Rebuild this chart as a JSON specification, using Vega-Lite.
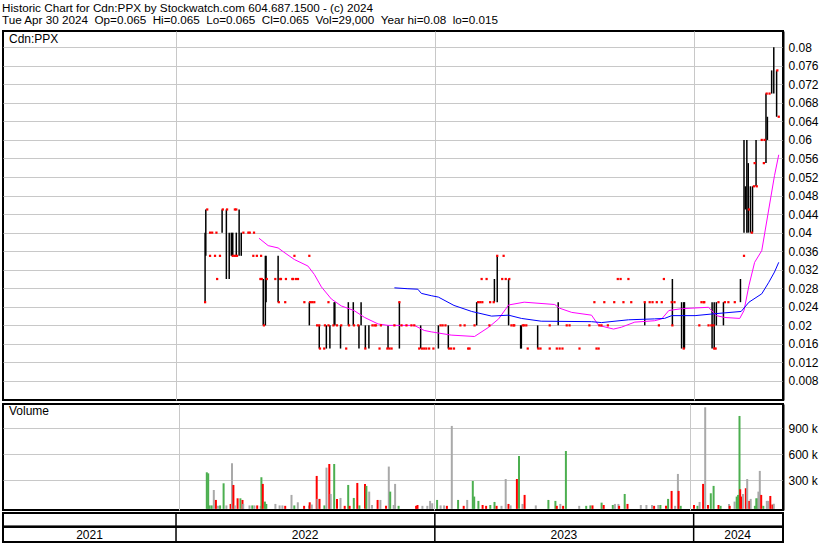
{
"$schema":"https://vega.github.io/schema/vega-lite/v6.json",
"padding":{"left":1,"top":2,"right":0,"bottom":0},
"background":"white",
"config":{"font":"Liberation Sans","view":{"stroke":"black","strokeWidth":2},"axis":{"labelFont":"Liberation Sans","labelColor":"black","labelFontSize":12,"gridColor":"#c8c8c8","gridWidth":1},"text":{"font":"Liberation Sans"}},
"title":{"text":["Historic Chart for Cdn:PPX by Stockwatch.com 604.687.1500 - (c) 2024","Tue Apr 30 2024\u00a0\u00a0Op=0.065\u00a0\u00a0Hi=0.065\u00a0\u00a0Lo=0.065\u00a0\u00a0Cl=0.065\u00a0\u00a0Vol=29,000\u00a0\u00a0Year hi=0.08\u00a0\u00a0lo=0.015"],"anchor":"start","fontSize":11.7,"fontWeight":"normal","font":"Liberation Sans","color":"black","lineHeight":12.5,"offset":3,"frame":"bounds","dx":1},
"resolve":{"scale":{"color":"independent"}},
"datasets":{
"px":[
{"d":"2022-02-11","h":0.04,"l":0.025},{"d":"2022-02-12","h":0.045,"l":0.035},{"d":"2022-03-07","h":0.045,"l":0.04},{"d":"2022-03-13","h":0.045,"l":0.03},{"d":"2022-03-17","h":0.04,"l":0.03},{"d":"2022-03-20","h":0.04,"l":0.035},{"d":"2022-03-22","h":0.04,"l":0.035},{"d":"2022-03-27","h":0.04,"l":0.035},{"d":"2022-03-31","h":0.045,"l":0.035},{"d":"2022-04-03","h":0.04,"l":0.035},
{"d":"2022-05-04","h":0.03,"l":0.02},{"d":"2022-05-07","h":0.035,"l":0.02},{"d":"2022-05-08","h":0.035,"l":0.025},{"d":"2022-05-25","h":0.035,"l":0.025},{"d":"2022-07-08","h":0.025,"l":0.02},{"d":"2022-07-22","h":0.02,"l":0.015},{"d":"2022-08-01","h":0.02,"l":0.015},{"d":"2022-08-06","h":0.02,"l":0.015},{"d":"2022-08-12","h":0.025,"l":0.02},{"d":"2022-08-13","h":0.025,"l":0.02},{"d":"2022-08-21","h":0.02,"l":0.015},{"d":"2022-09-01","h":0.025,"l":0.02},{"d":"2022-09-08","h":0.025,"l":0.02},{"d":"2022-09-16","h":0.02,"l":0.015},{"d":"2022-09-19","h":0.025,"l":0.02},{"d":"2022-09-25","h":0.02,"l":0.015},{"d":"2022-09-30","h":0.02,"l":0.015},{"d":"2022-10-27","h":0.02,"l":0.015},{"d":"2022-11-12","h":0.025,"l":0.015},{"d":"2022-12-12","h":0.02,"l":0.015},
{"d":"2023-01-06","h":0.02,"l":0.015},{"d":"2023-01-20","h":0.02,"l":0.015},{"d":"2023-03-01","h":0.025,"l":0.02},{"d":"2023-03-26","h":0.03,"l":0.025},{"d":"2023-03-30","h":0.035,"l":0.025},{"d":"2023-04-15","h":0.03,"l":0.02},{"d":"2023-05-02","h":0.02,"l":0.015},{"d":"2023-05-03","h":0.02,"l":0.015},{"d":"2023-05-26","h":0.02,"l":0.015},{"d":"2023-06-24","h":0.025,"l":0.02},{"d":"2023-10-24","h":0.025,"l":0.02},{"d":"2023-12-02","h":0.03,"l":0.02},{"d":"2023-12-15","h":0.025,"l":0.015},{"d":"2023-12-18","h":0.025,"l":0.015},{"d":"2023-12-19","h":0.025,"l":0.015},
{"d":"2024-01-27","h":0.025,"l":0.015},{"d":"2024-01-30","h":0.025,"l":0.015},{"d":"2024-02-02","h":0.025,"l":0.02},{"d":"2024-02-12","h":0.025,"l":0.02},{"d":"2024-03-07","h":0.03,"l":0.025},{"d":"2024-03-12","h":0.06,"l":0.04},{"d":"2024-03-14","h":0.05,"l":0.045},{"d":"2024-03-16","h":0.06,"l":0.04},{"d":"2024-03-18","h":0.055,"l":0.04},{"d":"2024-03-21","h":0.05,"l":0.04},{"d":"2024-03-24","h":0.05,"l":0.04},{"d":"2024-03-29","h":0.06,"l":0.05},{"d":"2024-04-12","h":0.07,"l":0.055},{"d":"2024-04-14","h":0.065,"l":0.06},{"d":"2024-04-20","h":0.075,"l":0.07},{"d":"2024-04-23","h":0.08,"l":0.07},{"d":"2024-04-27","h":0.075,"l":0.065}
],
"dots":[
{"d":"2022-02-14","p":0.045},{"d":"2022-02-11","p":0.025},{"d":"2022-02-18","p":0.04},{"d":"2022-02-21","p":0.04},{"d":"2022-02-27","p":0.04},{"d":"2022-02-18","p":0.035},{"d":"2022-02-25","p":0.035},{"d":"2022-03-04","p":0.035},{"d":"2022-02-28","p":0.03},{"d":"2022-03-08","p":0.045},{"d":"2022-03-14","p":0.045},{"d":"2022-03-25","p":0.045},{"d":"2022-03-27","p":0.045},{"d":"2022-03-22","p":0.035},{"d":"2022-03-25","p":0.035},{"d":"2022-03-28","p":0.035},{"d":"2022-04-06","p":0.04},{"d":"2022-04-13","p":0.04},{"d":"2022-04-15","p":0.04},{"d":"2022-04-21","p":0.04},{"d":"2022-04-20","p":0.035},{"d":"2022-04-25","p":0.035},{"d":"2022-05-01","p":0.035},{"d":"2022-04-30","p":0.03},{"d":"2022-05-02","p":0.03},{"d":"2022-05-09","p":0.03},{"d":"2022-05-05","p":0.02},{"d":"2022-05-21","p":0.03},{"d":"2022-05-28","p":0.03},{"d":"2022-05-29","p":0.03},{"d":"2022-06-05","p":0.03},{"d":"2022-06-14","p":0.03},{"d":"2022-06-15","p":0.03},{"d":"2022-06-19","p":0.03},{"d":"2022-06-22","p":0.03},{"d":"2022-05-26","p":0.025},{"d":"2022-06-04","p":0.025},{"d":"2022-06-17","p":0.035},{"d":"2022-07-08","p":0.035},{"d":"2022-07-01","p":0.025},{"d":"2022-07-09","p":0.025},{"d":"2022-07-12","p":0.025},{"d":"2022-07-15","p":0.025},{"d":"2022-07-19","p":0.02},{"d":"2022-07-22","p":0.02},{"d":"2022-07-23","p":0.015},{"d":"2022-07-29","p":0.015},{"d":"2022-08-04","p":0.025},{"d":"2022-07-30","p":0.02},{"d":"2022-08-04","p":0.02},{"d":"2022-08-11","p":0.02},{"d":"2022-08-16","p":0.02},{"d":"2022-08-22","p":0.02},{"d":"2022-08-29","p":0.015},{"d":"2022-09-02","p":0.02},{"d":"2022-09-09","p":0.02},{"d":"2022-09-15","p":0.02},{"d":"2022-09-25","p":0.015},{"d":"2022-10-05","p":0.02},{"d":"2022-10-08","p":0.02},{"d":"2022-10-10","p":0.02},{"d":"2022-10-15","p":0.015},{"d":"2022-10-17","p":0.02},{"d":"2022-10-26","p":0.015},{"d":"2022-10-29","p":0.015},{"d":"2022-11-01","p":0.015},{"d":"2022-11-05","p":0.02},{"d":"2022-11-12","p":0.025},{"d":"2022-11-15","p":0.02},{"d":"2022-11-22","p":0.02},{"d":"2022-11-29","p":0.02},{"d":"2022-12-03","p":0.02},{"d":"2022-12-10","p":0.015},{"d":"2022-12-14","p":0.015},{"d":"2022-12-17","p":0.015},{"d":"2022-12-20","p":0.015},{"d":"2022-12-24","p":0.015},{"d":"2022-12-30","p":0.015},
{"d":"2023-01-09","p":0.02},{"d":"2023-01-12","p":0.02},{"d":"2023-01-16","p":0.02},{"d":"2023-01-21","p":0.015},{"d":"2023-01-24","p":0.015},{"d":"2023-01-28","p":0.015},{"d":"2023-02-06","p":0.02},{"d":"2023-02-12","p":0.02},{"d":"2023-02-17","p":0.015},{"d":"2023-02-19","p":0.015},{"d":"2023-02-26","p":0.02},{"d":"2023-03-03","p":0.025},{"d":"2023-03-06","p":0.025},{"d":"2023-03-09","p":0.025},{"d":"2023-03-08","p":0.03},{"d":"2023-03-15","p":0.03},{"d":"2023-03-19","p":0.02},{"d":"2023-03-20","p":0.025},{"d":"2023-03-25","p":0.025},{"d":"2023-03-30","p":0.035},{"d":"2023-04-08","p":0.035},{"d":"2023-04-06","p":0.03},{"d":"2023-04-11","p":0.03},{"d":"2023-04-16","p":0.03},{"d":"2023-04-19","p":0.02},{"d":"2023-04-22","p":0.02},{"d":"2023-04-23","p":0.02},{"d":"2023-05-05","p":0.02},{"d":"2023-05-07","p":0.02},{"d":"2023-05-10","p":0.02},{"d":"2023-05-12","p":0.015},{"d":"2023-05-27","p":0.015},{"d":"2023-05-30","p":0.015},{"d":"2023-06-12","p":0.02},{"d":"2023-06-12","p":0.015},{"d":"2023-06-22","p":0.015},{"d":"2023-06-26","p":0.015},{"d":"2023-06-30","p":0.015},{"d":"2023-07-06","p":0.02},{"d":"2023-07-10","p":0.02},{"d":"2023-07-24","p":0.015},{"d":"2023-08-07","p":0.02},{"d":"2023-08-14","p":0.025},{"d":"2023-08-17","p":0.015},{"d":"2023-08-20","p":0.015},{"d":"2023-08-21","p":0.02},{"d":"2023-08-24","p":0.02},{"d":"2023-08-28","p":0.025},{"d":"2023-09-02","p":0.02},{"d":"2023-09-11","p":0.025},{"d":"2023-09-16","p":0.03},{"d":"2023-09-20","p":0.03},{"d":"2023-10-01","p":0.03},{"d":"2023-09-24","p":0.025},{"d":"2023-10-05","p":0.025},{"d":"2023-10-24","p":0.025},{"d":"2023-10-31","p":0.025},{"d":"2023-11-04","p":0.025},{"d":"2023-11-10","p":0.025},{"d":"2023-11-17","p":0.025},{"d":"2023-11-13","p":0.02},{"d":"2023-11-20","p":0.03},{"d":"2023-12-02","p":0.02},{"d":"2023-12-01","p":0.025},{"d":"2023-12-05","p":0.025},{"d":"2023-12-18","p":0.015},
{"d":"2024-01-09","p":0.02},{"d":"2024-01-15","p":0.025},{"d":"2024-01-22","p":0.02},{"d":"2024-01-26","p":0.02},{"d":"2024-01-29","p":0.02},{"d":"2024-01-30","p":0.015},{"d":"2024-02-01","p":0.015},{"d":"2024-01-12","p":0.025},{"d":"2024-01-16","p":0.025},{"d":"2024-02-05","p":0.025},{"d":"2024-02-14","p":0.025},{"d":"2024-02-19","p":0.025},{"d":"2024-02-28","p":0.025},{"d":"2024-03-12","p":0.035},{"d":"2024-03-19","p":0.045},{"d":"2024-03-23","p":0.04},{"d":"2024-03-26","p":0.05},{"d":"2024-03-30","p":0.05},{"d":"2024-03-27","p":0.055},{"d":"2024-04-06","p":0.06},{"d":"2024-04-10","p":0.06},{"d":"2024-04-09","p":0.055},{"d":"2024-04-13","p":0.07},{"d":"2024-04-17","p":0.07},{"d":"2024-04-28","p":0.075},{"d":"2024-04-30","p":0.065}
],
"maShort":[
{"d":"2022-04-28","v":0.0388},{"d":"2022-05-11","v":0.0372},{"d":"2022-05-25","v":0.0367},{"d":"2022-06-02","v":0.0358},{"d":"2022-06-17","v":0.0342},{"d":"2022-07-06","v":0.0328},{"d":"2022-07-15","v":0.031},{"d":"2022-07-25","v":0.0283},{"d":"2022-08-08","v":0.0257},{"d":"2022-08-22","v":0.0242},{"d":"2022-09-09","v":0.0232},{"d":"2022-09-24","v":0.0217},{"d":"2022-10-13","v":0.0203},{"d":"2022-10-27","v":0.02},{"d":"2022-12-03","v":0.02},{"d":"2022-12-17","v":0.0189},{"d":"2022-12-27","v":0.0186},{"d":"2023-01-24","v":0.0179},{"d":"2023-02-26","v":0.0176},{"d":"2023-03-18","v":0.0196},{"d":"2023-04-01","v":0.0214},{"d":"2023-04-15","v":0.0244},{"d":"2023-05-07","v":0.025},{"d":"2023-06-19","v":0.0245},{"d":"2023-06-26","v":0.0237},{"d":"2023-07-13","v":0.0228},{"d":"2023-08-10","v":0.0222},{"d":"2023-08-20","v":0.02},{"d":"2023-09-10","v":0.0192},{"d":"2023-09-21","v":0.0196},{"d":"2023-10-10","v":0.0207},{"d":"2023-11-07","v":0.021},{"d":"2023-11-17","v":0.0214},{"d":"2023-11-27","v":0.0232},{"d":"2023-12-15","v":0.0236},{"d":"2024-01-22","v":0.0239},{"d":"2024-02-02","v":0.0221},{"d":"2024-02-14","v":0.0217},{"d":"2024-03-06","v":0.0215},{"d":"2024-03-12","v":0.0232},{"d":"2024-03-19","v":0.0286},{"d":"2024-03-27","v":0.0336},{"d":"2024-04-06","v":0.0361},{"d":"2024-04-16","v":0.0451},{"d":"2024-04-24","v":0.0523},{"d":"2024-04-30","v":0.0568}
],
"maLong":[
{"d":"2022-11-05","v":0.0281},{"d":"2022-11-24","v":0.0279},{"d":"2022-12-08","v":0.0278},{"d":"2022-12-13","v":0.0269},{"d":"2022-12-27","v":0.0264},{"d":"2023-01-06","v":0.0261},{"d":"2023-01-28","v":0.0243},{"d":"2023-02-22","v":0.023},{"d":"2023-03-22","v":0.022},{"d":"2023-04-15","v":0.0222},{"d":"2023-05-03","v":0.0215},{"d":"2023-05-31","v":0.0209},{"d":"2023-08-10","v":0.0208},{"d":"2023-08-24","v":0.0206},{"d":"2023-10-01","v":0.0212},{"d":"2023-11-07","v":0.0214},{"d":"2023-11-21","v":0.0215},{"d":"2023-12-01","v":0.0221},{"d":"2024-01-03","v":0.0221},{"d":"2024-01-30","v":0.0225},{"d":"2024-03-08","v":0.023},{"d":"2024-03-19","v":0.025},{"d":"2024-04-06","v":0.0268},{"d":"2024-04-16","v":0.0293},{"d":"2024-04-24","v":0.0315},{"d":"2024-04-30","v":0.0336}
],
"vol":[
{"d":"2022-02-10","v":392000,"c":"up"},{"d":"2022-02-12","v":380000,"c":"up"},{"d":"2022-02-14","v":10000,"c":"up"},{"d":"2022-02-17","v":10000,"c":"up"},{"d":"2022-02-20","v":188000,"c":"flat"},{"d":"2022-02-23","v":73000,"c":"down"},{"d":"2022-02-26","v":5000,"c":"flat"},{"d":"2022-03-01","v":10000,"c":"up"},{"d":"2022-03-06","v":265000,"c":"up"},{"d":"2022-03-10","v":10000,"c":"flat"},{"d":"2022-03-16","v":27000,"c":"down"},{"d":"2022-03-18","v":496000,"c":"flat"},{"d":"2022-03-20","v":246000,"c":"down"},{"d":"2022-03-22","v":10000,"c":"flat"},{"d":"2022-03-26","v":92000,"c":"down"},{"d":"2022-03-30","v":92000,"c":"up"},{"d":"2022-04-02","v":73000,"c":"down"},{"d":"2022-04-03","v":27000,"c":"flat"},{"d":"2022-04-12","v":10000,"c":"flat"},{"d":"2022-04-16","v":10000,"c":"up"},{"d":"2022-04-19","v":10000,"c":"flat"},{"d":"2022-04-23","v":10000,"c":"down"},{"d":"2022-04-28","v":5000,"c":"flat"},{"d":"2022-04-29","v":335000,"c":"up"},{"d":"2022-05-01","v":258000,"c":"down"},{"d":"2022-05-04","v":54000,"c":"up"},{"d":"2022-05-06","v":27000,"c":"up"},{"d":"2022-05-19","v":27000,"c":"flat"},{"d":"2022-05-25","v":10000,"c":"flat"},{"d":"2022-05-29","v":10000,"c":"flat"},{"d":"2022-06-02","v":5000,"c":"down"},{"d":"2022-06-11","v":131000,"c":"flat"},{"d":"2022-06-15","v":10000,"c":"up"},{"d":"2022-06-20","v":46000,"c":"flat"},{"d":"2022-06-29","v":5000,"c":"down"},{"d":"2022-07-06","v":10000,"c":"flat"},{"d":"2022-07-07","v":46000,"c":"down"},{"d":"2022-07-10","v":20000,"c":"flat"},{"d":"2022-07-17","v":350000,"c":"down"},{"d":"2022-07-18","v":85000,"c":"flat"},{"d":"2022-07-21","v":85000,"c":"down"},{"d":"2022-07-28","v":10000,"c":"up"},{"d":"2022-07-31","v":446000,"c":"flat"},{"d":"2022-08-04","v":488000,"c":"down"},{"d":"2022-08-06","v":142000,"c":"flat"},{"d":"2022-08-11","v":488000,"c":"up"},{"d":"2022-08-15","v":85000,"c":"down"},{"d":"2022-08-20","v":96000,"c":"flat"},{"d":"2022-08-26","v":5000,"c":"down"},{"d":"2022-08-31","v":246000,"c":"up"},{"d":"2022-09-02","v":5000,"c":"down"},{"d":"2022-09-08","v":96000,"c":"up"},{"d":"2022-09-13","v":269000,"c":"down"},{"d":"2022-09-16","v":10000,"c":"up"},{"d":"2022-09-24","v":258000,"c":"down"},{"d":"2022-09-26","v":235000,"c":"up"},{"d":"2022-09-30","v":169000,"c":"flat"},{"d":"2022-10-04","v":15000,"c":"flat"},{"d":"2022-10-12","v":73000,"c":"down"},{"d":"2022-10-16","v":73000,"c":"flat"},{"d":"2022-10-24","v":5000,"c":"down"},{"d":"2022-10-28","v":458000,"c":"flat"},{"d":"2022-10-30","v":169000,"c":"up"},{"d":"2022-11-04","v":15000,"c":"flat"},{"d":"2022-11-06","v":258000,"c":"flat"},{"d":"2022-11-11","v":5000,"c":"up"},{"d":"2022-12-06","v":5000,"c":"down"},{"d":"2022-12-08","v":15000,"c":"down"},{"d":"2022-12-15","v":5000,"c":"flat"},{"d":"2022-12-22","v":5000,"c":"flat"},{"d":"2022-12-26","v":62000,"c":"flat"},{"d":"2022-12-29","v":35000,"c":"flat"},
{"d":"2023-01-05","v":73000,"c":"up"},{"d":"2023-01-10","v":10000,"c":"flat"},{"d":"2023-01-15","v":10000,"c":"flat"},{"d":"2023-01-19","v":5000,"c":"down"},{"d":"2023-01-26","v":927000,"c":"flat"},{"d":"2023-02-04","v":73000,"c":"up"},{"d":"2023-02-12","v":5000,"c":"down"},{"d":"2023-02-17","v":73000,"c":"flat"},{"d":"2023-02-25","v":292000,"c":"up"},{"d":"2023-02-27","v":112000,"c":"up"},{"d":"2023-03-05","v":62000,"c":"up"},{"d":"2023-03-11","v":15000,"c":"down"},{"d":"2023-03-16","v":5000,"c":"down"},{"d":"2023-03-22","v":15000,"c":"up"},{"d":"2023-03-28","v":50000,"c":"up"},{"d":"2023-03-31","v":5000,"c":"down"},{"d":"2023-04-07","v":5000,"c":"flat"},{"d":"2023-04-13","v":315000,"c":"flat"},{"d":"2023-04-17","v":27000,"c":"down"},{"d":"2023-04-20","v":10000,"c":"flat"},{"d":"2023-04-29","v":315000,"c":"down"},{"d":"2023-05-02","v":581000,"c":"up"},{"d":"2023-05-07","v":27000,"c":"flat"},{"d":"2023-05-10","v":131000,"c":"down"},{"d":"2023-05-26","v":10000,"c":"flat"},{"d":"2023-06-13","v":73000,"c":"up"},{"d":"2023-06-23","v":62000,"c":"up"},{"d":"2023-06-25","v":5000,"c":"down"},{"d":"2023-06-30","v":27000,"c":"flat"},{"d":"2023-07-04","v":5000,"c":"down"},{"d":"2023-07-08","v":638000,"c":"up"},{"d":"2023-07-27","v":5000,"c":"flat"},{"d":"2023-08-06","v":5000,"c":"up"},{"d":"2023-08-12","v":10000,"c":"up"},{"d":"2023-08-15","v":10000,"c":"down"},{"d":"2023-08-28","v":42000,"c":"up"},{"d":"2023-08-31","v":15000,"c":"down"},{"d":"2023-09-13","v":15000,"c":"up"},{"d":"2023-09-16","v":27000,"c":"flat"},{"d":"2023-09-21","v":27000,"c":"flat"},{"d":"2023-09-22","v":5000,"c":"down"},{"d":"2023-09-30","v":142000,"c":"up"},{"d":"2023-10-04","v":27000,"c":"down"},{"d":"2023-10-23","v":15000,"c":"flat"},{"d":"2023-10-31","v":15000,"c":"flat"},{"d":"2023-11-08","v":15000,"c":"flat"},{"d":"2023-11-11","v":5000,"c":"down"},{"d":"2023-11-17","v":15000,"c":"flat"},{"d":"2023-11-20","v":15000,"c":"up"},{"d":"2023-11-28","v":5000,"c":"down"},{"d":"2023-12-01","v":85000,"c":"up"},{"d":"2023-12-06","v":177000,"c":"down"},{"d":"2023-12-11","v":5000,"c":"flat"},{"d":"2023-12-15","v":373000,"c":"flat"},{"d":"2023-12-16","v":177000,"c":"down"},{"d":"2023-12-19","v":5000,"c":"up"},
{"d":"2024-01-07","v":15000,"c":"down"},{"d":"2024-01-12","v":5000,"c":"up"},{"d":"2024-01-15","v":50000,"c":"flat"},{"d":"2024-01-20","v":258000,"c":"down"},{"d":"2024-01-23","v":1142000,"c":"flat"},{"d":"2024-01-27","v":15000,"c":"down"},{"d":"2024-01-31","v":150000,"c":"up"},{"d":"2024-02-04","v":235000,"c":"up"},{"d":"2024-02-11","v":15000,"c":"down"},{"d":"2024-02-14","v":5000,"c":"up"},{"d":"2024-02-26","v":27000,"c":"flat"},{"d":"2024-02-27","v":5000,"c":"down"},{"d":"2024-03-05","v":54000,"c":"flat"},{"d":"2024-03-08","v":112000,"c":"up"},{"d":"2024-03-10","v":131000,"c":"up"},{"d":"2024-03-12","v":1042000,"c":"up"},{"d":"2024-03-13","v":196000,"c":"down"},{"d":"2024-03-15","v":112000,"c":"down"},{"d":"2024-03-17","v":142000,"c":"flat"},{"d":"2024-03-21","v":208000,"c":"down"},{"d":"2024-03-23","v":315000,"c":"flat"},{"d":"2024-03-26","v":62000,"c":"down"},{"d":"2024-03-28","v":85000,"c":"flat"},{"d":"2024-04-03","v":5000,"c":"up"},{"d":"2024-04-05","v":92000,"c":"up"},{"d":"2024-04-07","v":92000,"c":"up"},{"d":"2024-04-08","v":169000,"c":"flat"},{"d":"2024-04-10","v":408000,"c":"flat"},{"d":"2024-04-12","v":131000,"c":"down"},{"d":"2024-04-15","v":5000,"c":"up"},{"d":"2024-04-20","v":62000,"c":"flat"},{"d":"2024-04-22","v":62000,"c":"flat"},{"d":"2024-04-25","v":119000,"c":"down"},{"d":"2024-04-28","v":20000,"c":"down"},{"d":"2024-04-30","v":29000,"c":"flat"}
],
"years":[{"d":"2022-01-01"},{"d":"2023-01-01"},{"d":"2024-01-01"}],
"yearlabels":[{"d":"2021-09-01","t":"2021"},{"d":"2022-07-02","t":"2022"},{"d":"2023-07-02","t":"2023"},{"d":"2024-03-03","t":"2024"}]
},
"spacing":2,
"vconcat":[
{
"width":780,"height":369,
"title":{"text":"Cdn:PPX","anchor":"start","frame":"group","offset":-15,"dx":6,"fontSize":12,"fontWeight":"normal","color":"black","font":"Liberation Sans"},
"layer":[
{"data":{"name":"px"},"mark":{"type":"rule","color":"black","strokeWidth":1.5},
"encoding":{
"x":{"field":"d","type":"temporal","scale":{"type":"utc","domain":[{"year":2021,"month":5,"date":2,"utc":true},{"year":2024,"month":5,"date":6,"utc":true}]},"axis":{"values":[{"year":2022,"month":1,"date":1,"utc":true},{"year":2023,"month":1,"date":1,"utc":true},{"year":2024,"month":1,"date":1,"utc":true}],"labels":false,"ticks":false,"domain":false,"title":null,"grid":true,"tickCount":10}},
"y":{"field":"h","type":"quantitative","scale":{"domain":[0.0039,0.0835],"nice":false,"zero":false},"axis":{"orient":"right","values":[0.008,0.012,0.016,0.02,0.024,0.028,0.032,0.036,0.04,0.044,0.048,0.052,0.056,0.06,0.064,0.068,0.072,0.076,0.08],"tickCount":40,"format":".3~f","title":null,"ticks":false,"domain":true,"domainColor":"black","domainWidth":2,"labelPadding":5,"grid":true,"labelOverlap":false}},
"y2":{"field":"l"}}},
{"data":{"name":"maShort"},"mark":{"type":"line","strokeWidth":1,"color":"#ff00ff"},
"encoding":{"x":{"field":"d","type":"temporal"},"y":{"field":"v","type":"quantitative"}}},
{"data":{"name":"maLong"},"mark":{"type":"line","strokeWidth":1,"color":"#0000ff"},
"encoding":{"x":{"field":"d","type":"temporal"},"y":{"field":"v","type":"quantitative"}}},
{"data":{"name":"dots"},"mark":{"type":"square","color":"#ff0000","size":5,"opacity":1},
"encoding":{"x":{"field":"d","type":"temporal"},"y":{"field":"p","type":"quantitative"}}}
]
},
{
"spacing":0,
"resolve":{"scale":{"color":"independent"}},
"vconcat":[
{
"width":780,"height":106,
"title":{"text":"Volume","anchor":"start","frame":"group","offset":-14,"dx":6,"fontSize":12,"fontWeight":"normal","color":"black","font":"Liberation Sans"},
"data":{"name":"vol"},
"mark":{"type":"bar","width":2},
"encoding":{
"x":{"field":"d","type":"temporal","scale":{"type":"utc","domain":[{"year":2021,"month":5,"date":2,"utc":true},{"year":2024,"month":5,"date":6,"utc":true}]},"axis":{"values":[{"year":2022,"month":1,"date":1,"utc":true},{"year":2023,"month":1,"date":1,"utc":true},{"year":2024,"month":1,"date":1,"utc":true}],"labels":false,"ticks":false,"domain":false,"title":null,"grid":true,"tickCount":10}},
"y":{"field":"v","type":"quantitative","scale":{"domain":[-43000,1180000],"nice":false,"zero":false},"axis":{"orient":"right","values":[300000,600000,900000],"tickCount":10,"labelExpr":"(datum.value/1000) + ' k'","title":null,"ticks":false,"domain":true,"domainColor":"black","domainWidth":2,"labelPadding":5,"grid":true}},
"y2":{"datum":-30000},
"color":{"field":"c","type":"nominal","scale":{"domain":["up","down","flat"],"range":["#4caf50","#ff0000","#a9a9a9"]},"legend":null}
}
},
{
"width":780,"height":29,
"layer":[
{"data":{"name":"years"},"mark":{"type":"rule","color":"black","strokeWidth":1.5},
"encoding":{"x":{"field":"d","type":"temporal","scale":{"type":"utc","domain":[{"year":2021,"month":5,"date":2,"utc":true},{"year":2024,"month":5,"date":6,"utc":true}]},"axis":null}}},
{"data":{"name":"years"},"mark":{"type":"rule","color":"black","strokeWidth":2},
"encoding":{"y":{"datum":1.05,"type":"quantitative","scale":{"domain":[0,2],"nice":false},"axis":null}}},
{"data":{"name":"yearlabels"},"mark":{"type":"text","fontSize":12,"color":"black","baseline":"middle","align":"center"},
"encoding":{"x":{"field":"d","type":"temporal"},"y":{"datum":0.5,"type":"quantitative"},"text":{"field":"t"}}}
]
}
]
}
]
}
